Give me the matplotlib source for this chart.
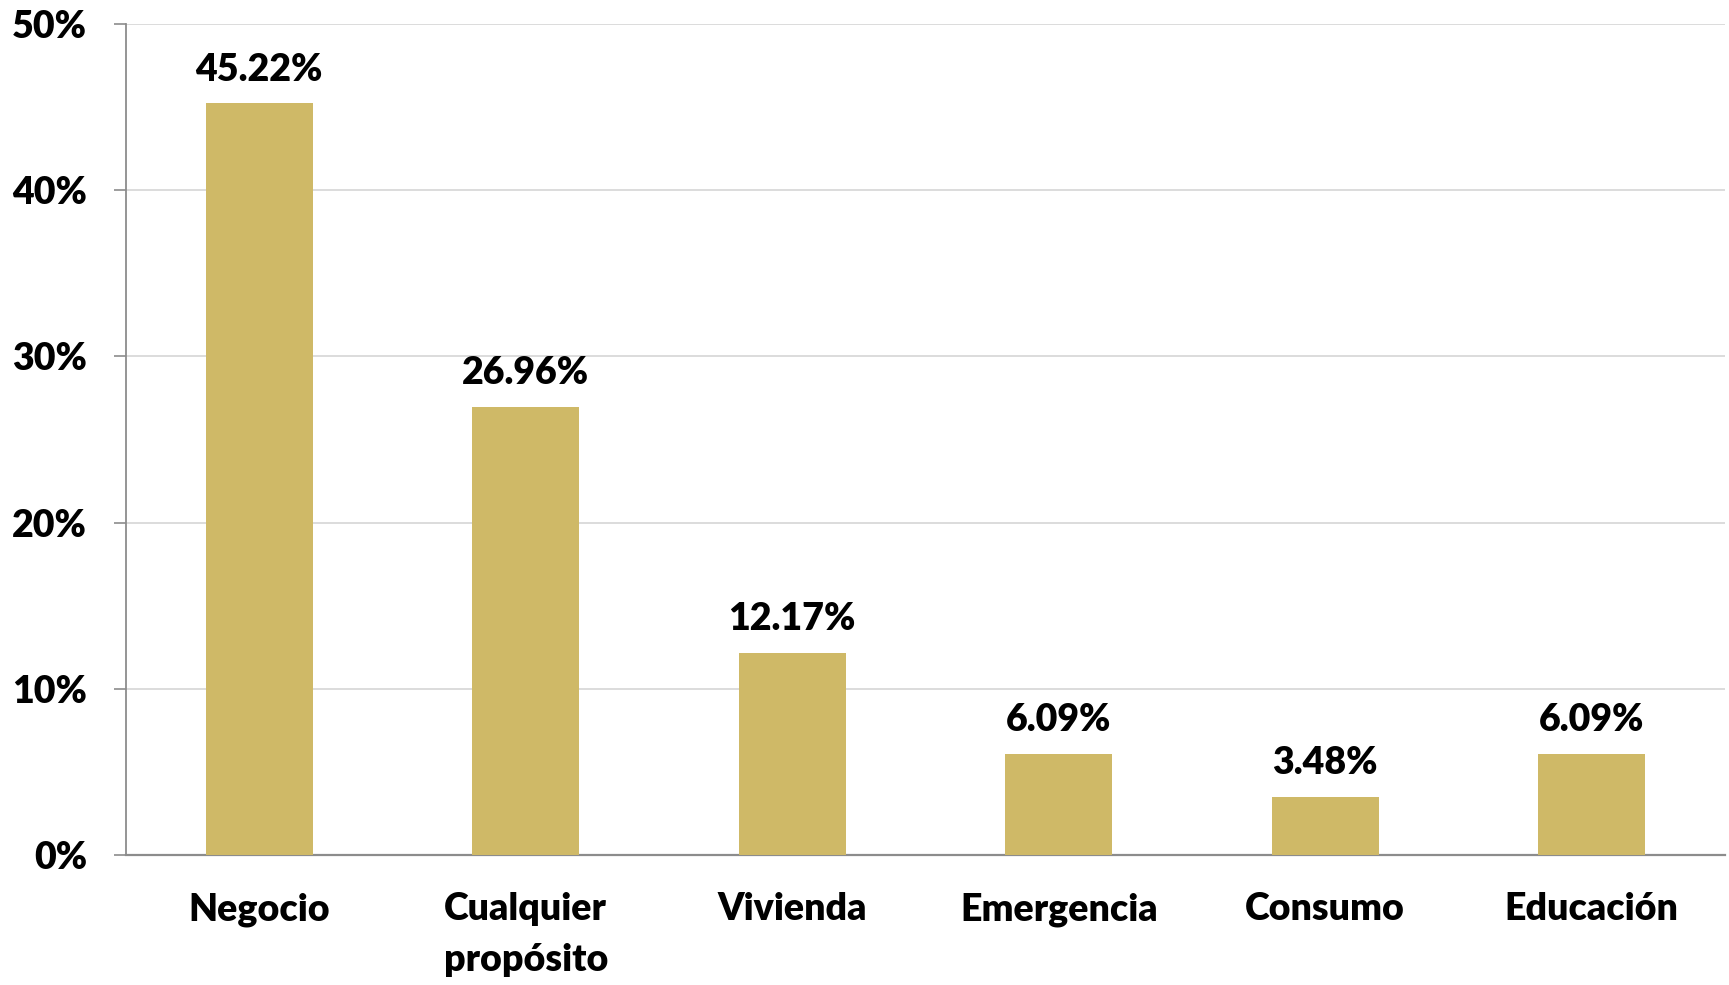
import matplotlib.pyplot as plt
from matplotlib.ticker import FuncFormatter

categories = ["Negocio", "Cualquier\npropósito", "Vivienda", "Emergencia", "Consumo", "Educación"]
values = [45.22, 26.96, 12.17, 6.09, 3.48, 6.09]
yticks = [0, 10, 20, 30, 40, 50]

plt.rcParams['font.family'] = ['Lato', 'DejaVu Sans']

fig = plt.figure(figsize=[17.29, 9.85], dpi=100)
ax = fig.add_axes([126 / 1729, 1 - 855 / 985, (1725 - 126) / 1729, (855 - 24) / 985])

x = range(len(categories))
ax.bar(x, values, width=0.4, color="#CFB967", zorder=3)

for xi, v in zip(x, values):
    ax.annotate(f"{v:.2f}%", (xi, v), xytext=(0, 12), textcoords="offset points",
                ha="center", va="bottom", fontsize=27, fontweight="heavy")

ax.set_xlim(-0.5, len(categories) - 0.5)
ax.set_ylim(0, 50)
ax.set_yticks(yticks)
ax.yaxis.set_major_formatter(FuncFormatter(lambda v, p: f"{v:.0f}%"))
ax.set_xticks(list(x))
ax.set_xticklabels(categories, fontsize=27, fontweight="heavy", va="top", linespacing=1.6)
ax.tick_params(axis="x", length=0, pad=27)
ax.tick_params(axis="y", length=9, width=1.2, color="#8c8c8c", labelsize=27, pad=19)
for lab in ax.get_yticklabels():
    lab.set_fontweight("heavy")

ax.grid(axis="y", color="#d9d9d9", linewidth=1.3, zorder=0)
for s in ["top", "right"]:
    ax.spines[s].set_visible(False)
ax.spines["left"].set_color("#8c8c8c")
ax.spines["bottom"].set_color("#8c8c8c")
ax.spines["left"].set_linewidth(1.3)
ax.spines["bottom"].set_linewidth(1.6)

fig.savefig("out.png", dpi=100)
